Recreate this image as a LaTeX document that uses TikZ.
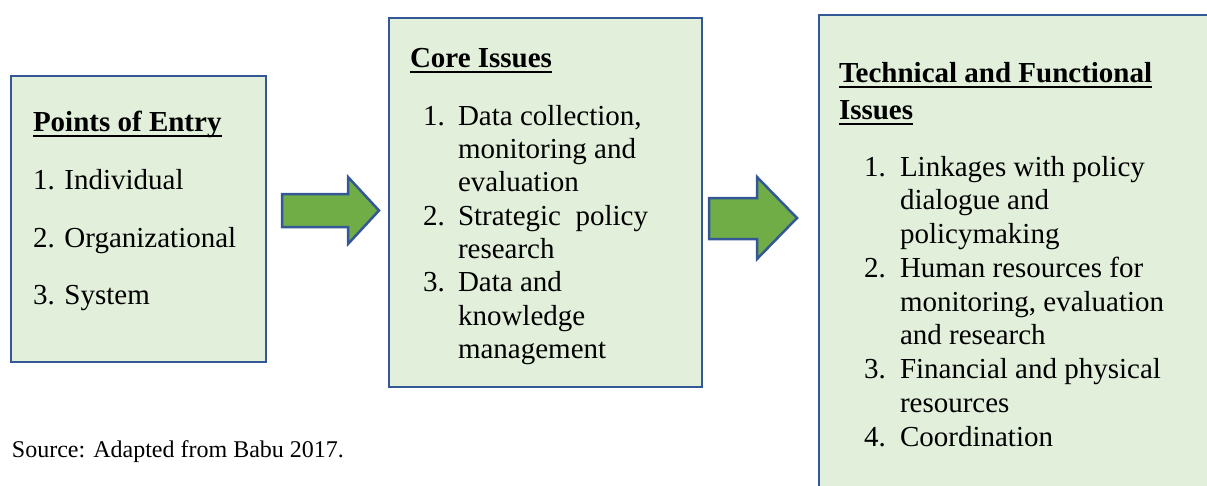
\documentclass[tikz,border=0pt]{standalone}
\usepackage{fontspec}
\setmainfont{LiberationSerif}[Extension=.ttf, UprightFont=*-Regular, BoldFont=*-Bold]
\definecolor{boxfill}{RGB}{226,239,218}
\definecolor{boxline}{RGB}{52,88,150}
\definecolor{arrfill}{RGB}{112,173,71}
\newcommand\mainfs{\rmfamily\fontsize{29pt}{33.5pt}\selectfont}
\newcommand\srcfs{\rmfamily\fontsize{24pt}{28pt}\selectfont}
\tikzset{
  box/.style={draw=boxline, fill=boxfill, line width=2.5pt, rectangle, inner sep=0pt, outer sep=0pt, anchor=north west},
  txt/.style={anchor=base west, inner sep=0pt, outer sep=0pt, font=\mainfs},
  head/.style={txt, font=\mainfs\bfseries},
  uline/.style={line width=2.4pt},
  blockarrow/.style={draw=boxline, fill=arrfill, line width=2.5pt, line join=miter},
}
\begin{document}
\begin{tikzpicture}[x=1pt, y=-1pt]
\useasboundingbox (0,0) rectangle (1207,485);
\clip (0,0) rectangle (1207,485);
% boxes
\node[box, minimum width=255pt, minimum height=286pt] (b1) at (11,76) {};
\node[box, minimum width=313pt, minimum height=369pt] (b2) at (389,18) {};
\node[box, minimum width=420pt, minimum height=500pt] (b3) at (819,15) {};
% arrows
\draw[blockarrow] (282,194) -- (348,194) -- (348,177) -- (379,210.5) -- (348,244) -- (348,227) -- (282,227) -- cycle;
\draw[blockarrow] (709,198) -- (757,198) -- (757,177) -- (797,218) -- (757,259) -- (757,239) -- (709,239) -- cycle;
% box 1
\node[head] (h1) at (33,131) {Points of Entry};
\draw[uline] ([yshift=-5pt]h1.base west) -- ([yshift=-5pt]h1.base east);
\node[txt] (p1) at (33,189) {1. Individual};
\node[txt] (p2) at (33,247) {2. Organizational};
\node[txt] (p3) at (33,304) {3. System};
% box 2
\node[head] (h2) at (410,67) {Core Issues};
\draw[uline] ([yshift=-5pt]h2.base west) -- ([yshift=-5pt]h2.base east);
\node[txt] (c1n) at (423,125) {1.};
\node[txt] (c1a) at (458,125) {Data collection,};
\node[txt] (c1b) at (458,158.3) {monitoring and};
\node[txt] (c1c) at (458,191.6) {evaluation};
\node[txt] (c2n) at (423,225) {2.};
\node[txt] (c2a) at (458,225) {Strategic\ \ policy};
\node[txt] (c2b) at (458,258.3) {research};
\node[txt] (c3n) at (423,291.6) {3.};
\node[txt] (c3a) at (458,291.6) {Data and};
\node[txt] (c3b) at (458,325) {knowledge};
\node[txt] (c3c) at (458,358.3) {management};
% box 3
\node[head] (h3a) at (839,82) {Technical and Functional};
\draw[uline] ([yshift=-5pt]h3a.base west) -- ([yshift=-5pt]h3a.base east);
\node[head] (h3b) at (839,119) {Issues};
\draw[uline] ([yshift=-5pt]h3b.base west) -- ([yshift=-5pt]h3b.base east);
\node[txt] (t1n) at (864,176) {1.};
\node[txt] (t1a) at (900,176) {Linkages with policy};
\node[txt] (t1b) at (900,209.75) {dialogue and};
\node[txt] (t1c) at (900,243.5) {policymaking};
\node[txt] (t2n) at (864,277.25) {2.};
\node[txt] (t2a) at (900,277.25) {Human resources for};
\node[txt] (t2b) at (900,311) {monitoring, evaluation};
\node[txt] (t2c) at (900,344.75) {and research};
\node[txt] (t3n) at (864,378.5) {3.};
\node[txt] (t3a) at (900,378.5) {Financial and physical};
\node[txt] (t3b) at (900,412.25) {resources};
\node[txt] (t4n) at (864,446) {4.};
\node[txt] (t4a) at (900,446) {Coordination};
% source
\node[txt, font=\srcfs] (src) at (12,457) {Source: Adapted from Babu 2017.};
\end{tikzpicture}
\end{document}
